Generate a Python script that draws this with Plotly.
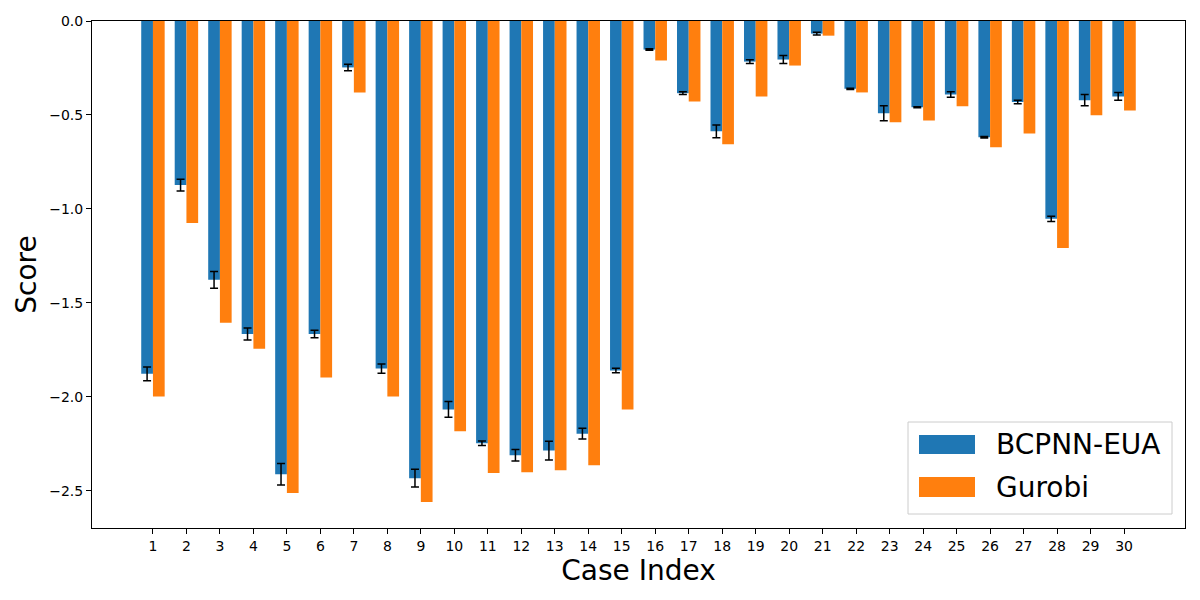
import plotly.graph_objects as go

cases = list(range(1, 31))
bcpnn = [-1.877, -0.873, -1.377, -1.665, -2.411, -1.665, -0.247, -1.849, -2.432, -2.066,
         -2.246, -2.310, -2.285, -2.195, -1.859, -0.152, -0.384, -0.587, -0.216, -0.205,
         -0.067, -0.361, -0.491, -0.459, -0.391, -0.619, -0.431, -1.052, -0.421, -0.401]
bcpnn_err = [0.037, 0.031, 0.045, 0.032, 0.057, 0.020, 0.017, 0.025, 0.047, 0.042,
             0.012, 0.030, 0.050, 0.028, 0.012, 0.004, 0.007, 0.034, 0.010, 0.021,
             0.007, 0.003, 0.040, 0.003, 0.014, 0.004, 0.009, 0.014, 0.030, 0.020]
gurobi = [-1.997, -1.075, -1.605, -1.743, -2.511, -1.896, -0.380, -1.997, -2.559, -2.183,
          -2.405, -2.400, -2.390, -2.363, -2.066, -0.210, -0.428, -0.656, -0.401, -0.237,
          -0.078, -0.380, -0.539, -0.529, -0.454, -0.672, -0.598, -1.207, -0.502, -0.476]
series_names = ["BCPNN-EUA", "Gurobi"]
colors = ["#1f77b4", "#ff7f0e"]
y_ticks = [0.0, -0.5, -1.0, -1.5, -2.0, -2.5]

FONT = "DejaVu Sans"
OFF = 8  # default page body margin

fig = go.Figure()
fig.add_trace(go.Bar(
    x=cases, y=bcpnn, name=series_names[0], marker=dict(color=colors[0], line=dict(width=0)),
    error_y=dict(type="data", array=bcpnn_err, visible=True, color="black", thickness=1.5, width=4),
    showlegend=False,
))
fig.add_trace(go.Bar(
    x=cases, y=gurobi, name=series_names[1], marker=dict(color=colors[1], line=dict(width=0)),
    showlegend=False,
))

# Target plot-area edges in page pixels
L, R, B, T = 92, 1185, 528, 21
W, H = R - L, B - T
def px(x):
    return (x - L) / W
def py(y):
    return (B - y) / H

shapes = []
x0, x1, y0, y1 = px(908), px(1172), py(514), py(422)
shapes.append(dict(type="rect", xref="paper", yref="paper", x0=x0, x1=x1, y0=y0, y1=y1,
                   line=dict(color="#cccccc", width=1), fillcolor="rgba(255,255,255,0.8)", layer="above"))
patch_rows = [(435, 454), (477, 497)]
annotations = []
for (ya, yb), c, name in zip(patch_rows, colors, series_names):
    shapes.append(dict(type="rect", xref="paper", yref="paper", x0=px(919), x1=px(975),
                       y0=py(yb), y1=py(ya), line=dict(width=0), fillcolor=c, layer="above"))
    annotations.append(dict(xref="paper", yref="paper", x=px(994), y=py((ya + yb) / 2),
                            text=name, showarrow=False, xanchor="left", yanchor="middle",
                            font=dict(family=FONT, size=28, color="black")))

fig.update_layout(
    width=1200, height=600,
    margin=dict(l=L - OFF, r=1200 - (R - OFF), t=T - OFF, b=600 - (B - OFF), autoexpand=False),
    paper_bgcolor="white", plot_bgcolor="white",
    barmode="group", bargap=0.3, bargroupgap=0,
    font=dict(family=FONT, color="black"),
    shapes=shapes, annotations=annotations,
    showlegend=False,
)
fig.update_xaxes(
    automargin=False,
    range=[-0.82, 31.82], tickmode="array", tickvals=cases, ticktext=[str(c) for c in cases],
    ticks="outside", ticklen=5, tickwidth=1, tickcolor="black",
    showline=True, linecolor="black", linewidth=1, mirror=True, showgrid=False, zeroline=False,
    tickfont=dict(size=14, family=FONT),
    title=dict(text="Case Index", font=dict(size=28, family=FONT), standoff=6),
)
fig.update_yaxes(
    automargin=False,
    range=[-2.697, 0], tickmode="array", tickvals=y_ticks, tickformat=".1f",
    ticks="outside", ticklen=5, tickwidth=1, tickcolor="black",
    showline=True, linecolor="black", linewidth=1, mirror=True, showgrid=False, zeroline=False,
    tickfont=dict(size=14, family=FONT),
    title=dict(text="Score", font=dict(size=28, family=FONT), standoff=4),
)
fig.write_html("out.html")
